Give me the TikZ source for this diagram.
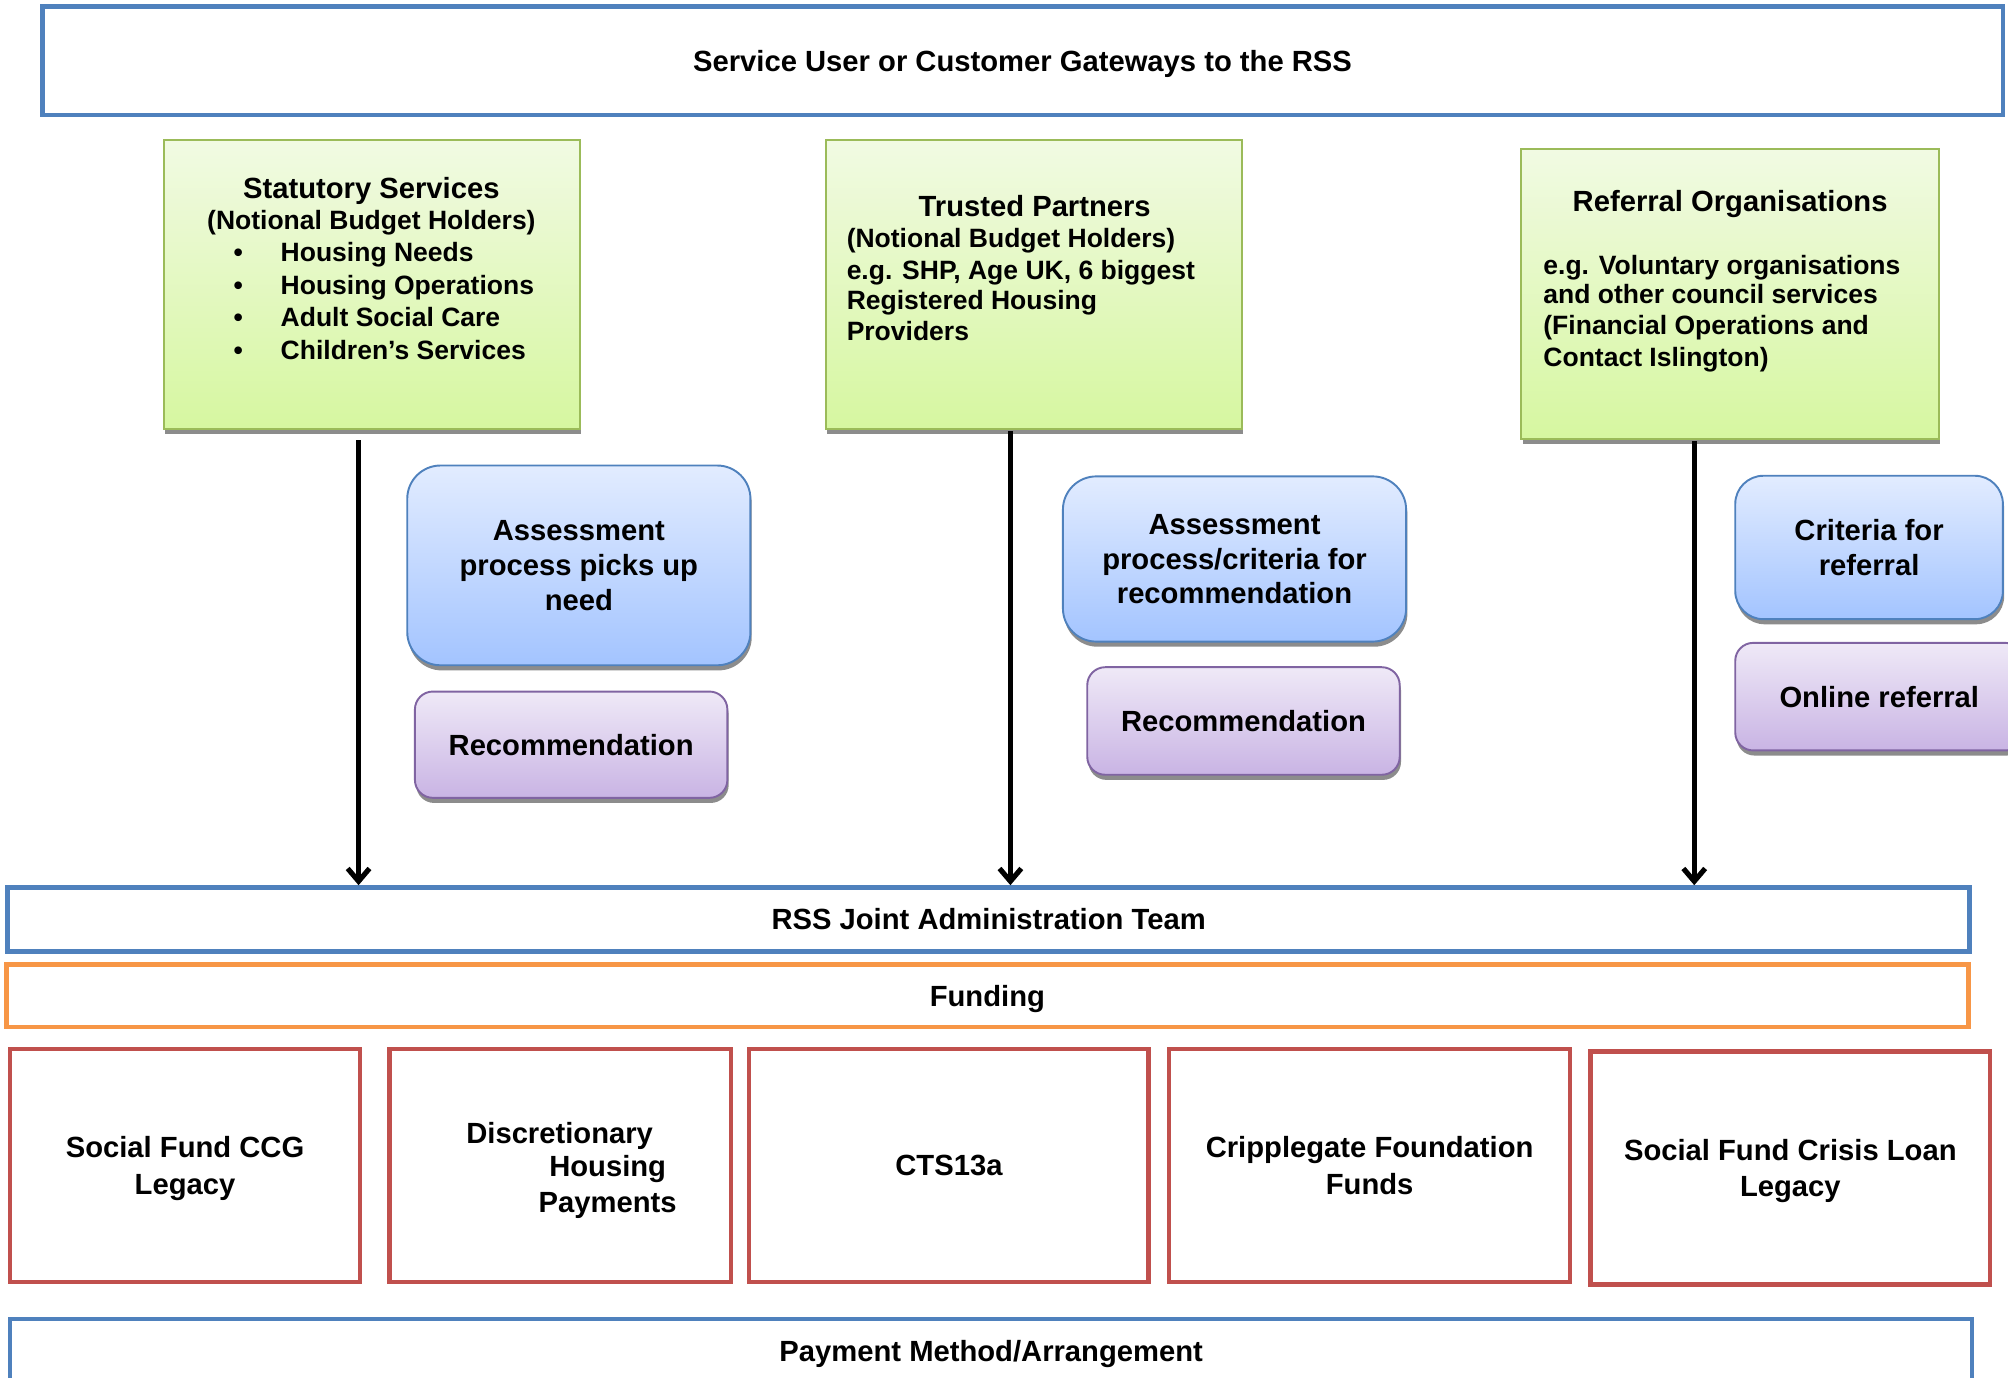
\documentclass[tikz,border=0pt]{standalone}
\usepackage{fontspec}
\setmainfont{Liberation Sans}
\usetikzlibrary{arrows.meta,shadows}
\definecolor{cblue}{HTML}{4F81BD}
\definecolor{corange}{HTML}{F79646}
\definecolor{cred}{HTML}{C0504D}
\definecolor{cgreen}{HTML}{9BBB59}
\definecolor{cpurple}{HTML}{8064A2}
\definecolor{gtop}{HTML}{F1FAE3}
\definecolor{gbot}{HTML}{D6F7A0}
\definecolor{btop}{HTML}{E2ECFF}
\definecolor{bbot}{HTML}{A3C4FF}
\definecolor{ptop}{HTML}{EFE9F7}
\definecolor{pbot}{HTML}{C9B4E4}
\tikzset{
  bigf/.style={font=\fontsize{22.8}{27}\selectfont\bfseries},
  bigred/.style={font=\fontsize{22.8}{28.5}\selectfont\bfseries},
  smallf/.style={font=\fontsize{20.7}{24.5}\selectfont\bfseries},
  frame/.style={draw, line width=3.5pt, fill=white, inner sep=0pt, align=center, text depth=0pt},
  oneline/.style={text height=16.4pt, text depth=0pt},
  blueframe/.style={frame, draw=cblue},
  orangeframe/.style={frame, draw=corange},
  redframe/.style={frame, draw=cred},
  shad/.style={drop shadow={shadow xshift=1pt, shadow yshift=-4pt, opacity=0.45, fill=black}},
  greenbox/.style={draw=cgreen, line width=1.5pt, top color=gtop, bottom color=gbot, inner sep=0pt, shad},
  bluebox/.style={draw=cblue, line width=1.5pt, top color=btop, bottom color=bbot, inner sep=0pt, rounded corners=26pt, align=center, bigf, shad, text depth=0pt},
  purplebox/.style={draw=cpurple, line width=1.5pt, top color=ptop, bottom color=pbot, inner sep=0pt, rounded corners=14pt, align=center, bigf, shad},
  arr/.style={line width=4pt, -{Straight Barb[length=10pt,width=17pt]}},
}
\begin{document}
\begin{tikzpicture}[x=1pt,y=-1pt]
\useasboundingbox (0,0) rectangle (1568,1076);
% top
\node[blueframe, bigf, oneline, minimum width=1531pt, minimum height=85pt] (top) at (798.5,47.5) {Service User or Customer Gateways to the RSS};
% green boxes
\node[greenbox, minimum width=325pt, minimum height=226pt] (g1) at (290.5,222) {};
\node[greenbox, minimum width=325pt, minimum height=226pt] (g2) at (807.5,222) {};
\node[greenbox, minimum width=326pt, minimum height=227pt] (g3) at (1351,229.5) {};
% g1 text
\node[bigf, anchor=base] (g1t) at (290,155) {Statutory Services};
\node[smallf, anchor=base] (g1s) at (290,179) {(Notional Budget Holders)};
\node[smallf, anchor=base] (b1a) at (186,204) {\textbullet};
\node[smallf, anchor=base] (b1b) at (186,230) {\textbullet};
\node[smallf, anchor=base] (b1c) at (186,255) {\textbullet};
\node[smallf, anchor=base] (b1d) at (186,281) {\textbullet};
\node[smallf, anchor=base west, inner xsep=0pt] (i1a) at (219,204) {Housing Needs};
\node[smallf, anchor=base west, inner xsep=0pt] (i1b) at (219,230) {Housing Operations};
\node[smallf, anchor=base west, inner xsep=0pt] (i1c) at (219,255) {Adult Social Care};
\node[smallf, anchor=base west, inner xsep=0pt] (i1d) at (219,281) {Children’s Services};
% g2 text
\node[bigf, anchor=base] (g2t) at (808,169) {Trusted Partners};
\node[smallf, anchor=base west, inner xsep=0pt] (g2a) at (661,193) {(Notional Budget Holders)};
\node[smallf, anchor=base west, inner xsep=0pt] (g2b) at (661,218) {e.g. SHP, Age UK, 6 biggest};
\node[smallf, anchor=base west, inner xsep=0pt] (g2c) at (661,242) {Registered Housing};
\node[smallf, anchor=base west, inner xsep=0pt] (g2d) at (661,266) {Providers};
% g3 text
\node[bigf, anchor=base] (g3t) at (1351,165) {Referral Organisations};
\node[smallf, anchor=base west, inner xsep=0pt] (g3a) at (1205,214) {e.g. Voluntary organisations};
\node[smallf, anchor=base west, inner xsep=0pt] (g3b) at (1205,237) {and other council services};
\node[smallf, anchor=base west, inner xsep=0pt] (g3c) at (1205,261) {(Financial Operations and};
\node[smallf, anchor=base west, inner xsep=0pt] (g3d) at (1205,286) {Contact Islington)};
% blue rounded
\node[bluebox, minimum width=268pt, minimum height=156pt] (as1) at (452,441.5) {Assessment\\process picks up\\need};
\node[bluebox, minimum width=268pt, minimum height=129pt] (as2) at (964,436.5) {Assessment\\process/criteria for\\recommendation};
\node[bluebox, rounded corners=22pt, minimum width=209pt, minimum height=112pt] (as3) at (1459.5,427.5) {Criteria for\\referral};
% purple
\node[purplebox, oneline, minimum width=244pt, minimum height=83pt] (rc1) at (446,581.5) {Recommendation};
\node[purplebox, oneline, minimum width=244pt, minimum height=84pt] (rc2) at (971,563) {Recommendation};
\node[purplebox, oneline, minimum width=225pt, minimum height=84pt] (rc3) at (1467.5,544) {Online referral};
% bars
\node[blueframe, bigf, oneline, minimum width=1532pt, minimum height=50pt] (rss) at (772,718) {RSS Joint Administration Team};
\node[orangeframe, bigf, oneline, minimum width=1532pt, minimum height=49pt] (fund) at (771,777.5) {Funding};
% red boxes
\node[redframe, bigred, minimum width=273pt, minimum height=182pt] (r1) at (144.5,910) {Social Fund CCG\\Legacy};
\node[redframe, bigred, minimum width=267pt, minimum height=182pt] (r2) at (437.5,910) {};
\node[bigf, anchor=base] (r2a) at (437,893) {Discretionary};
\node[bigf, anchor=base] (r2b) at (474.5,919) {Housing};
\node[bigf, anchor=base] (r2c) at (474.5,947) {Payments};
\node[redframe, bigred, oneline, minimum width=312pt, minimum height=182pt] (r3) at (741,910) {CTS13a};
\node[redframe, bigred, minimum width=313pt, minimum height=182pt] (r4) at (1069.5,910) {Cripplegate Foundation\\Funds};
\node[redframe, bigred, minimum width=312pt, minimum height=182pt] (r5) at (1398,912) {Social Fund Crisis Loan\\Legacy};
% payment
\node[blueframe, bigf, oneline, minimum width=1532pt, minimum height=50pt] (pay) at (774,1055) {Payment Method/Arrangement};
% arrows
\coordinate (x1) at (280,0);
\coordinate (x2) at (789,0);
\coordinate (x3) at (1323,0);
\draw[arr] ([yshift=-8pt]g1.south -| x1) -- (x1 |- rss.north);
\draw[arr] ([yshift=-1pt]g2.south -| x2) -- (x2 |- rss.north);
\draw[arr] ([yshift=-1pt]g3.south -| x3) -- (x3 |- rss.north);
\end{tikzpicture}
\end{document}
